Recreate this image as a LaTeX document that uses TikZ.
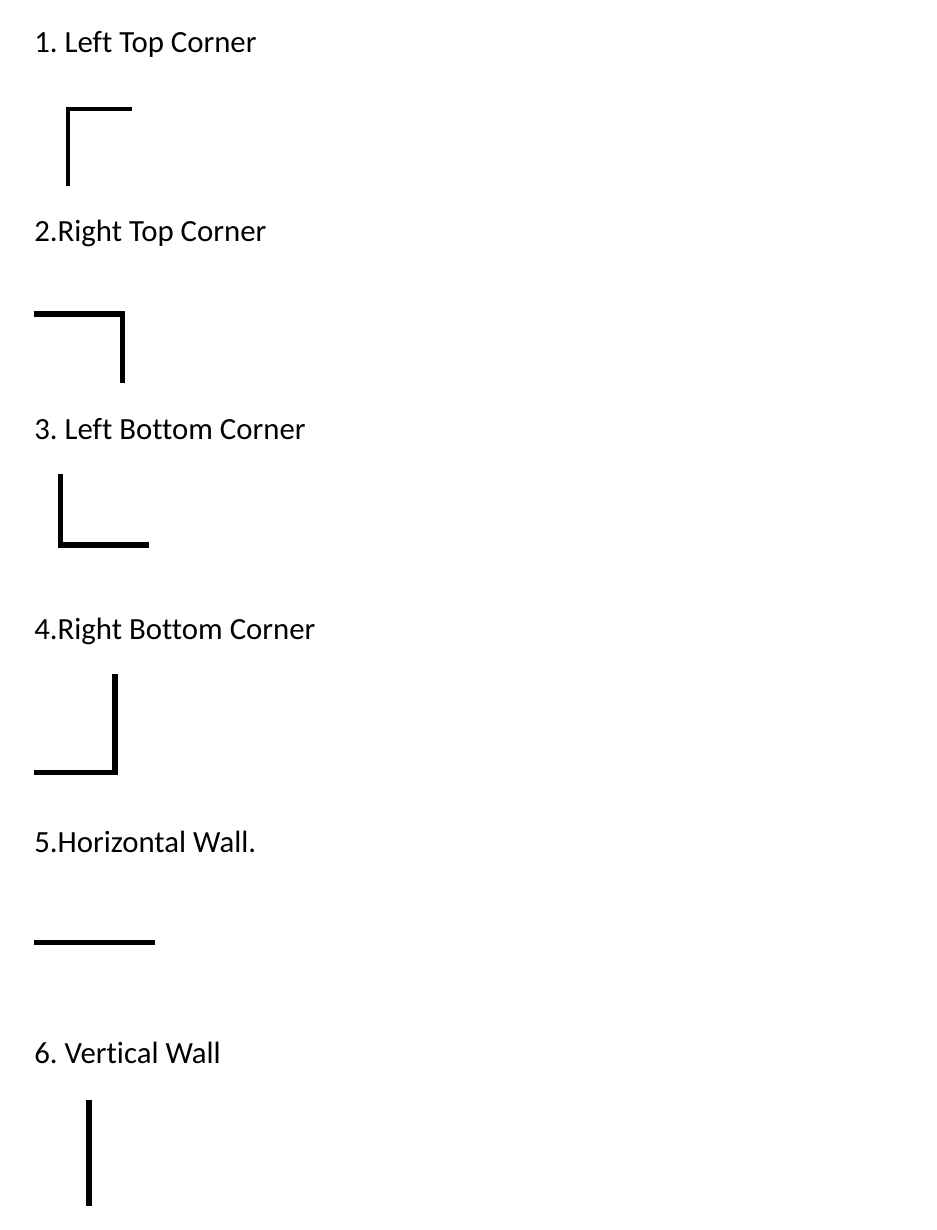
\documentclass[tikz,border=0pt]{standalone}
\usepackage{fontspec}
\setmainfont[Ligatures=NoCommon]{Carlito}
\usetikzlibrary{positioning}
\frenchspacing

\begin{document}
\begin{tikzpicture}[
    x=0.75pt, y=-0.75pt,
    itemtext/.style={anchor=base west, inner sep=0pt, font=\fontsize{23.1}{27}\selectfont},
    wall/.style={line width=3.8pt, line join=miter, black},
    thinwall/.style={wall, line width=3.4pt}
]
    \useasboundingbox (0,0) rectangle (936,1230);

    % captions
    \node (lt) [itemtext] at (34,53) {1. Left Top Corner};
    \node (rt) [itemtext] at (34,242) {2.Right Top Corner};
    \node (lb) [itemtext] at (34,439) {3. Left Bottom Corner};
    \node (rb) [itemtext] at (34,639) {4.Right Bottom Corner};
    \node (hw) [itemtext] at (34,852) {5.Horizontal Wall.};
    \node (vw) [itemtext] at (34,1063) {6. Vertical Wall};

    % wall pieces
    \draw [thinwall] (68,186) -- (68,109) -- (131.5,109);
    \draw [wall] (34,314) -- (122.5,314) -- (122.5,383);
    \draw [wall] (60.5,474) -- (60.5,545) -- (149,545);
    \draw [wall] (115,674) -- (115,772.5) -- (34,772.5);
    \draw [wall] (34,942.5) -- (155,942.5);
    \draw [wall] (89,1100) -- (89,1206);
\end{tikzpicture}
\end{document}
